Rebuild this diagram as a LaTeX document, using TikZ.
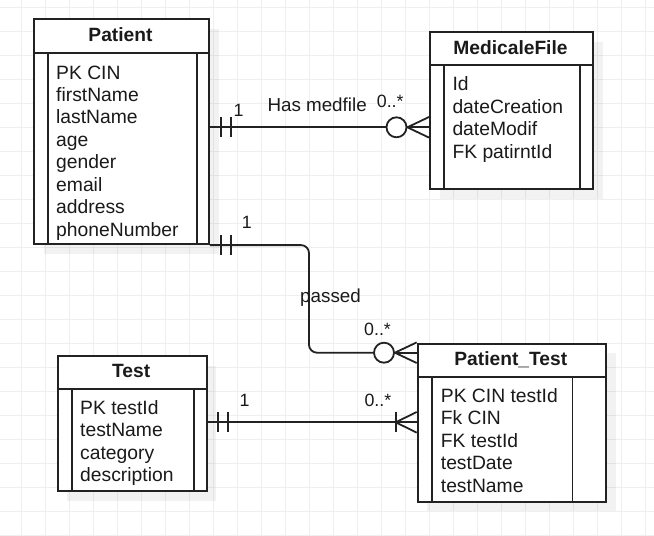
\documentclass[tikz,border=0pt]{standalone}
\usepackage{fontspec}
\setmainfont{Liberation Sans}
\usetikzlibrary{calc}
\definecolor{gridc}{HTML}{EFEFEF}
\definecolor{linec}{HTML}{222222}
\definecolor{textc}{HTML}{1A1A1A}
\tikzset{
  entbox/.style={draw=linec, fill=white, line width=1.8pt, inner sep=0pt, anchor=north west},
  shadowbox/.style={fill=black, opacity=0.05},
  inner/.style={draw=linec, line width=1.8pt},
  conn/.style={draw=linec, line width=1.8pt},
  circ/.style={circle, draw=linec, fill=white, line width=1.8pt, minimum size=20pt, inner sep=0pt},
  attr/.style={anchor=base west, inner sep=0pt, text=textc, font=\fontsize{19.3}{22}\selectfont},
  ttl/.style={anchor=base, inner sep=0pt, text=textc, font=\fontsize{19.2}{22}\selectfont\bfseries},
  lbl/.style={anchor=base west, inner sep=0pt, text=textc, font=\fontsize{18.8}{22}\selectfont},
  mult/.style={anchor=base west, inner sep=0pt, text=textc, font=\fontsize{17.8}{20}\selectfont},
}
\begin{document}
\begin{tikzpicture}[x=1pt,y=-1pt]
\useasboundingbox (0,0) rectangle (654,536);
\fill[white] (0,0) rectangle (654,536);
% grid
\foreach \gx in {21.3,45.3,...,645.3} \draw[gridc, line width=0.9pt] (\gx,0) -- (\gx,536);
\foreach \gy in {7.3,31.3,...,535.3} \draw[gridc, line width=0.9pt] (0,\gy) -- (654,\gy);

% shadows
\fill[shadowbox] (43.5,28.8) rectangle (218.5,253.8);
\fill[shadowbox] (439.5,41.5) rectangle (602.5,198.5);
\fill[shadowbox] (67.2,365.5) rectangle (216.2,500.5);
\fill[shadowbox] (427.2,353.2) rectangle (615.5,511.2);

% entity boxes
\node[entbox, minimum width=175pt, minimum height=225pt] (patient) at (33,18.3) {};
\node[entbox, minimum width=163pt, minimum height=157pt] (medfile) at (429,31) {};
\node[entbox, minimum width=149pt, minimum height=135pt] (test) at (56.7,355) {};
\node[entbox, minimum width=188.3pt, minimum height=158pt] (pt) at (416.7,342.7) {};

% header separators and inner columns
\draw[inner] ($(patient.north west)+(0,34.7)$) -- ($(patient.north east)+(0,34.7)$);
\draw[inner] ($(patient.north west)+(15,34.7)$) -- ($(patient.south west)+(15,0)$);
\draw[inner] ($(patient.north east)+(-13,34.7)$) -- ($(patient.south east)+(-13,0)$);

\draw[inner] ($(medfile.north west)+(0,34)$) -- ($(medfile.north east)+(0,34)$);
\draw[inner] ($(medfile.north west)+(15,34)$) -- ($(medfile.south west)+(15,0)$);
\draw[inner] ($(medfile.north east)+(-14,34)$) -- ($(medfile.south east)+(-14,0)$);

\draw[inner] ($(test.north west)+(0,34)$) -- ($(test.north east)+(0,34)$);
\draw[inner] ($(test.north west)+(15.3,34)$) -- ($(test.south west)+(15.3,0)$);
\draw[inner] ($(test.north east)+(-13.4,34)$) -- ($(test.south east)+(-13.4,0)$);

\draw[inner] ($(pt.north west)+(0,34)$) -- ($(pt.north east)+(0,34)$);
\draw[inner] ($(pt.north west)+(15.6,34)$) -- ($(pt.south west)+(15.6,0)$);
\draw[inner] ($(pt.north east)+(-34.3,34)$) -- ($(pt.south east)+(-34.3,0)$);

% titles
\node[ttl] (patientT) at (120.5,41.7) {Patient};
\node[ttl] (medfileT) at (510.5,54) {MedicaleFile};
\node[ttl] (testT) at (131.2,377.3) {Test};
\node[ttl] (ptT) at (510.8,365) {Patient\_Test};

% attributes
\foreach \t [count=\i] in {PK CIN,firstName,lastName,age,gender,email,address,phoneNumber}
  \node[attr] (pa\i) at (56,{79+(\i-1)*22.43}) {\t};
\foreach \t [count=\i] in {Id,dateCreation,dateModif,FK patirntId}
  \node[attr] (ma\i) at (452.3,{90.7+(\i-1)*22.5}) {\t};
\foreach \t [count=\i] in {PK testId,testName,category,description}
  \node[attr] (ta\i) at (80,{414+(\i-1)*22.5}) {\t};
\foreach \t [count=\i] in {PK CIN testId,Fk CIN,FK testId,testDate,testName}
  \node[attr] (pta\i) at (440.7,{402.3+(\i-1)*22.5}) {\t};

% connector 1: Patient -- MedicaleFile (Has medfile)
\coordinate (r1) at (0,127.3);
\node[circ] (o1) at (396.5,127.3) {};
\draw[conn] (patient.east |- r1) -- (o1.west);
\draw[conn] ($(patient.east |- r1)+(11,-10)$) -- ++(0,20);
\draw[conn] ($(patient.east |- r1)+(21,-10)$) -- ++(0,20);
\draw[conn] (o1.east) -- (medfile.west |- r1);
\draw[conn] (o1.east) -- ($(medfile.west |- r1)+(0,-10.3)$);
\draw[conn] (o1.east) -- ($(medfile.west |- r1)+(0,10.3)$);
\node[mult] (m1a) at (233.3,116.7) {1};
\node[lbl] (l1) at (267.3,111) {Has medfile};
\node[mult] (m1b) at (376.7,107.5) {0..*};

% connector 2: Patient -- Patient_Test (passed)
\coordinate (bend) at (309,0);
\node[circ] (o2) at (384,352.7) {};
\draw[conn, rounded corners=8pt] (patient.south east) -- (bend |- patient.south east) -- (bend |- o2.west) -- (o2.west);
\draw[conn] ($(patient.south east)+(11,-10)$) -- ++(0,20);
\draw[conn] ($(patient.south east)+(21,-10)$) -- ++(0,20);
\draw[conn] (o2.east) -- (pt.west |- o2);
\draw[conn] (o2.east) -- ($(pt.west |- o2)+(0,-10.3)$);
\draw[conn] (o2.east) -- ($(pt.west |- o2)+(0,10.3)$);
\node[mult] (m2a) at (241.7,228.3) {1};
\node[lbl] (l2) at (300,302.7) {passed};
\node[mult] (m2b) at (364,335) {0..*};

% connector 3: Test -- Patient_Test
\coordinate (r3) at (0,422.3);
\coordinate (f3) at ($(pt.west |- r3)+(-21,0)$);
\draw[conn] (test.east |- r3) -- (pt.west |- r3);
\draw[conn] ($(test.east |- r3)+(10.3,-10)$) -- ++(0,20);
\draw[conn] ($(test.east |- r3)+(20.3,-10)$) -- ++(0,20);
\draw[conn] ($(f3)+(0,-10)$) -- ++(0,20);
\draw[conn] (f3) -- ($(pt.west |- r3)+(0,-10.3)$);
\draw[conn] (f3) -- ($(pt.west |- r3)+(0,10.3)$);
\node[mult] (m3a) at (239.3,406) {1};
\node[mult] (m3b) at (364.3,406) {0..*};
\end{tikzpicture}
\end{document}
